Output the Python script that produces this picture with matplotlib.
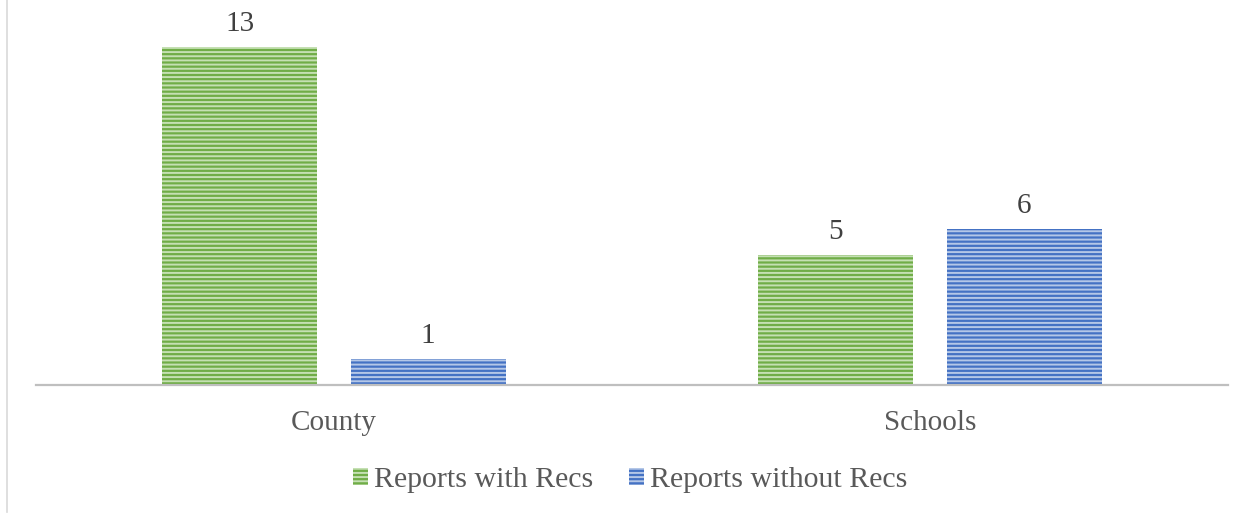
import numpy as np
import matplotlib.pyplot as plt
import matplotlib

categories = ['County', 'Schools']
with_recs = [13, 5]
without_recs = [1, 6]
series_names = ['Reports with Recs', 'Reports without Recs']

matplotlib.rcParams['font.family'] = ['Liberation Serif', 'DejaVu Serif']
matplotlib.rcParams['hatch.linewidth'] = 1.4

fig = plt.figure(figsize=(12.53, 5.14), dpi=100)
ax = fig.add_axes([36/1253, 129/514, 1192/1253, 364/514])

x = np.arange(len(categories))
w = 0.26
off = 0.158
fs = 21
green, green_h = '#70AD47', '#C5E0B3'
blue, blue_h = '#4472C4', '#B4C7E7'

b1 = ax.bar(x - off, with_recs, w, color=green, edgecolor=green_h, hatch='----', linewidth=0,
            label=series_names[0])
b2 = ax.bar(x + off, without_recs, w, color=blue, edgecolor=blue_h, hatch='----', linewidth=0,
            label=series_names[1])

for bars, vals in ((b1, with_recs), (b2, without_recs)):
    for r, v in zip(bars, vals):
        ax.annotate(str(v), (r.get_x() + r.get_width()/2, v), xytext=(0, 7),
                    textcoords='offset points', ha='center', va='bottom',
                    fontsize=fs, color='#404040')

ax.set_xlim(-0.5, 1.5)
ax.set_ylim(0, 14)
ax.set_xticks(x)
ax.set_xticklabels(categories, fontsize=fs, color='#595959')
ax.tick_params(axis='x', length=0, pad=18)
ax.set_yticks([])
for s in ['top', 'right', 'left']:
    ax.spines[s].set_visible(False)
ax.spines['bottom'].set_color('#BFBFBF')
ax.spines['bottom'].set_linewidth(1.6)

leg = fig.legend(handles=[b1, b2], loc='center', bbox_to_anchor=(0.503, 1 - 480/514), ncol=2,
                 frameon=False, prop={'size': 21.5}, handlelength=0.5, handleheight=0.5,
                 handletextpad=0.2, columnspacing=1.2)
for t in leg.get_texts():
    t.set_color('#595959')

# left border of the chart area
fig.add_artist(plt.Line2D([6.5/1253, 6.5/1253], [2/514, 1], color='#D9D9D9', linewidth=1.2))

fig.savefig('out.png', dpi=100)
